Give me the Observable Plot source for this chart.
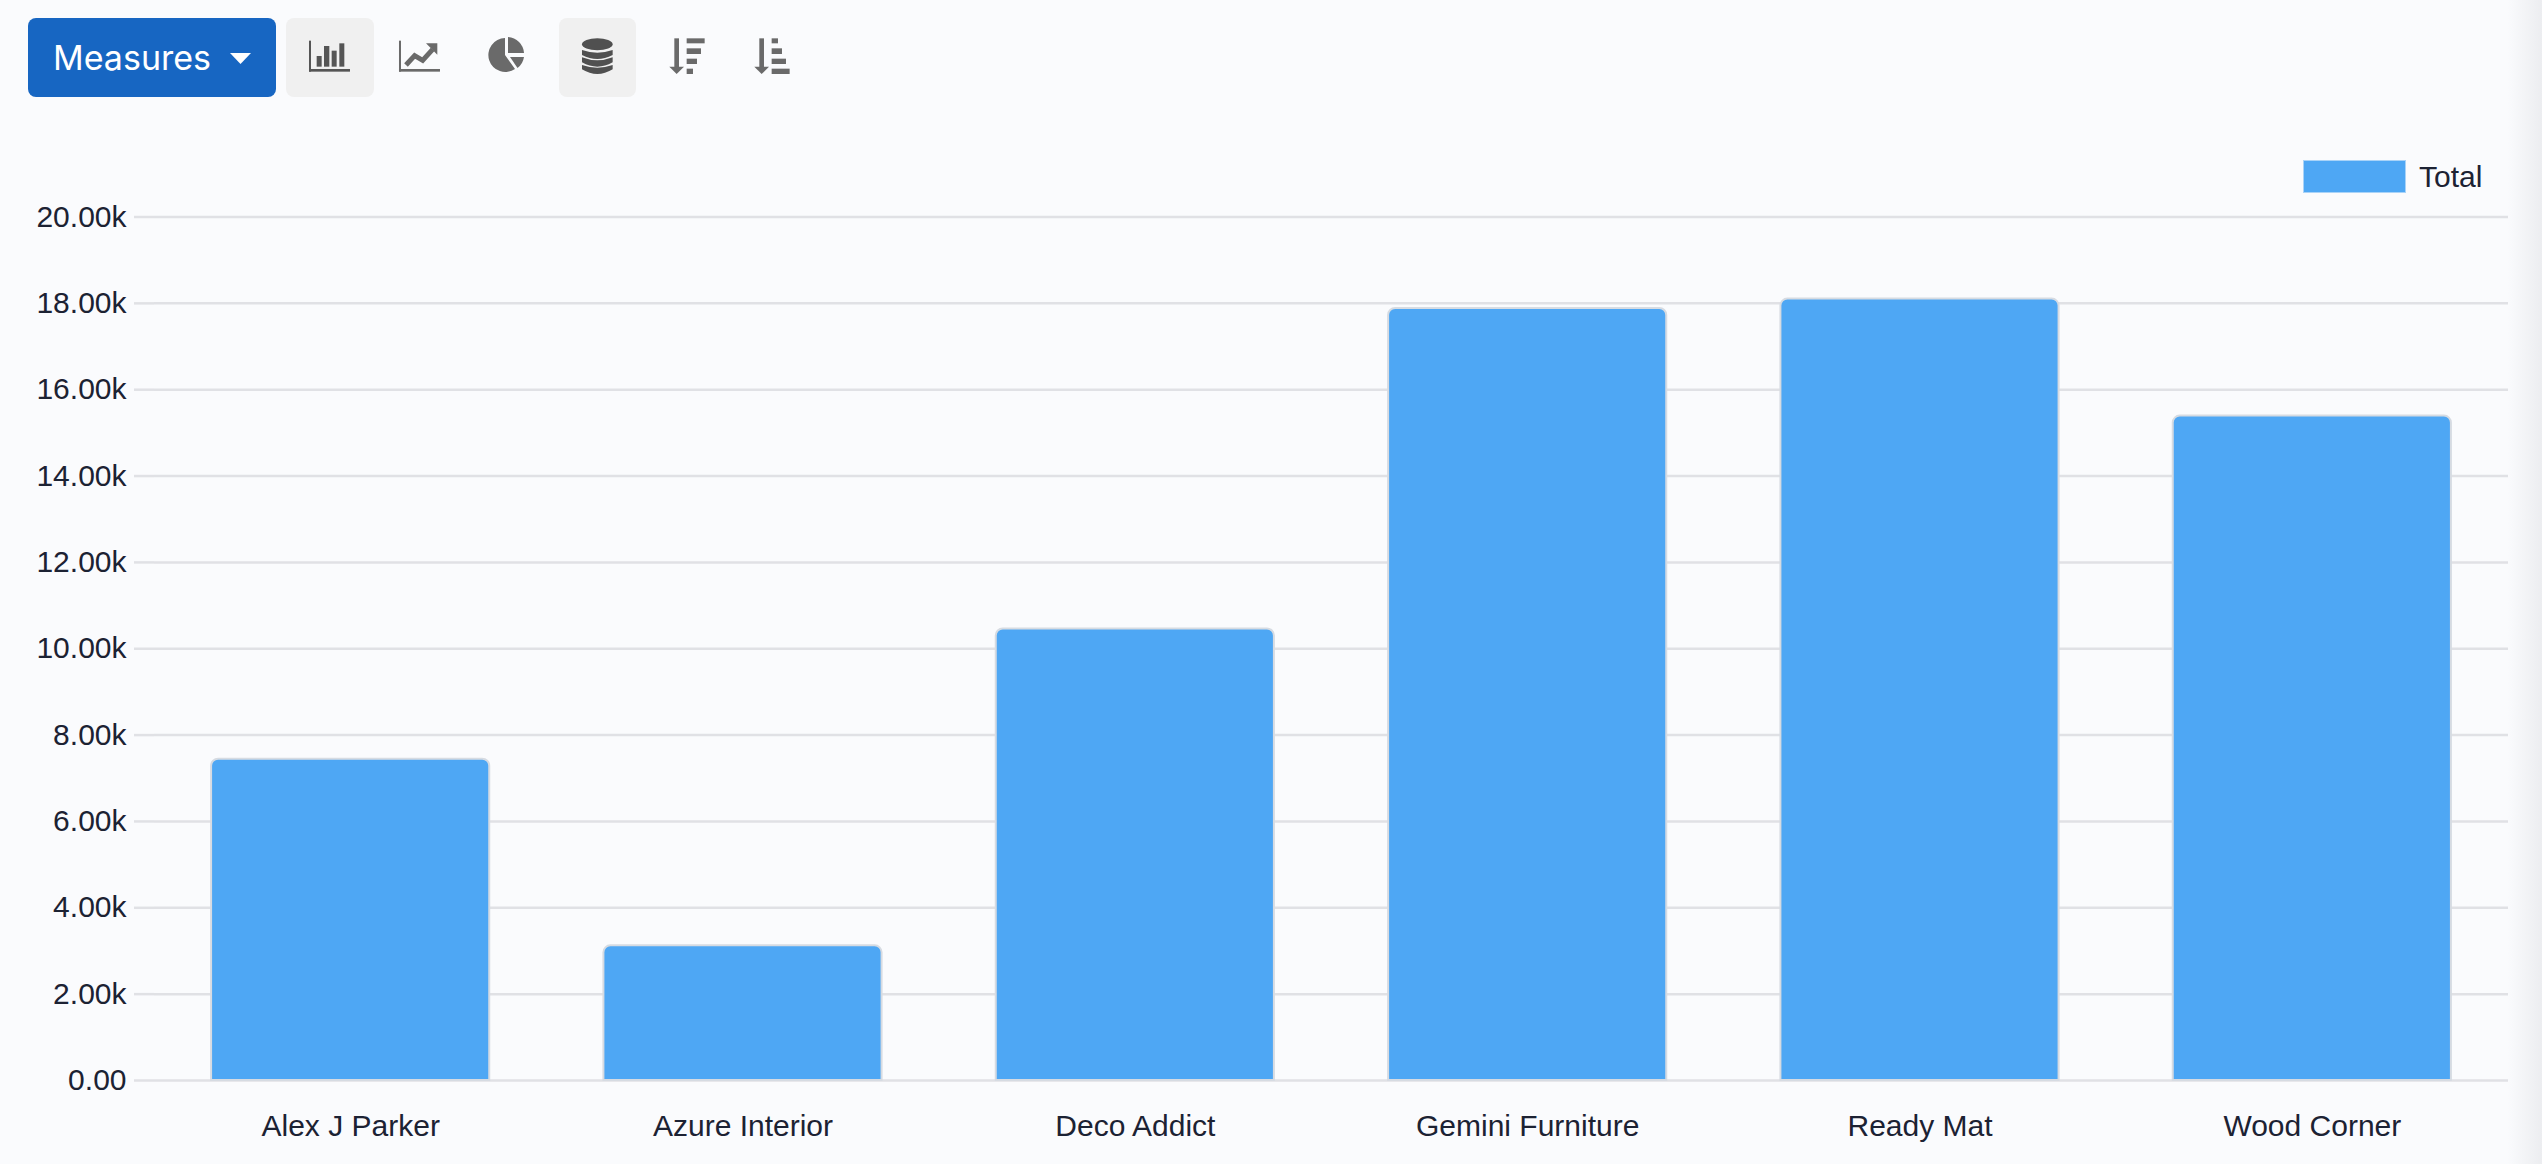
<!DOCTYPE html>
<html>
<head>
<meta charset="utf-8">
<script src="https://cdn.jsdelivr.net/npm/d3@7"></script>
<script src="https://cdn.jsdelivr.net/npm/@observablehq/plot@0.6"></script>
<style>
html,body{margin:0;padding:0;background:#fafbfd;width:2542px;height:1164px;overflow:hidden;position:relative;}
.abs{position:absolute;}
#btn{left:28px;top:18px;width:248px;height:79px;background:#1766c2;border-radius:8px;}
#btnText{left:53px;top:18px;height:79px;color:#fff;font:400 34px/79px Inter,sans-serif;}
.on{top:18px;height:79px;background:#f0f0f0;border-radius:8px;}
#legendSwatch{left:2303px;top:160px;width:103px;height:33px;background:#4ea7f4;box-sizing:border-box;border:1px solid #a9d3f8;}
#legendText{left:2419px;top:160px;color:#1c2233;font:30px/33px "Liberation Sans",sans-serif;}
#shade{left:2507px;top:0;width:35px;height:1164px;background:linear-gradient(to right,rgba(232,233,236,0),#ecedf0);}
#chart{left:0;top:0;}
#chart svg{display:block;background:transparent;}
</style>
</head>
<body>
<div id="chart" class="abs"></div>
<div id="btn" class="abs"></div>
<div id="btnText" class="abs">Measures</div>
<div class="abs on" style="left:286px;width:88px"></div>
<div class="abs on" style="left:559px;width:77px"></div>
<svg class="abs" style="left:0;top:0" width="800" height="110">
  <path d="M230,53H251L240.500,64Z" fill="#fff"/>
  <g transform="translate(280,10) scale(0.3333)">
    <g fill="#555">
      <rect x="87" y="92" width="6" height="93"/><rect x="87" y="177" width="123" height="8"/>
      <rect x="110" y="138" width="15" height="32"/><rect x="132" y="108" width="16" height="62"/>
      <rect x="155" y="122" width="15" height="48"/><rect x="178" y="100" width="15" height="70"/>
    </g>
    <g fill="#6a6a6a">
      <rect x="357" y="92" width="6" height="93"/><rect x="357" y="177" width="123" height="8"/>
      <path d="M378,165L404,137L428,151L458,118" fill="none" stroke="#6a6a6a" stroke-width="15"/>
      <path d="M438,100H472V134Z"/>
    </g>
  </g>
  <g fill="#6a6a6a">
    <path d="M505,38A17,17 0 1 0 515,69L505,55Z"/>
    <path d="M508,37A17,17 0 0 1 524,53H508Z"/>
    <path d="M524,57A17,17 0 0 1 517.500,68L510,57Z"/>
  </g>
  <g transform="translate(540,10) scale(0.3333)">
    <g fill="#505050">
      <ellipse cx="172" cy="103" rx="46" ry="18"/>
      <path d="M126,120Q172,136 218,120V135Q172,159 126,135Z"/>
      <path d="M126,142Q172,160 218,142V157Q172,183 126,157Z"/>
      <path d="M126,165Q172,181 218,165V178Q172,206 126,178Z"/>
    </g>
    <g fill="#6a6a6a">
      <rect x="403" y="85" width="14" height="87"/><path d="M388,170H432L410,192Z"/>
      <rect x="440" y="85" width="54" height="15"/><rect x="440" y="115" width="43" height="17"/>
      <rect x="440" y="146" width="31" height="16"/><rect x="440" y="176" width="19" height="16"/>
      <rect x="658" y="85" width="14" height="87"/><path d="M643,170H687L665,192Z"/>
      <rect x="695" y="85" width="19" height="15"/><rect x="695" y="115" width="31" height="17"/>
      <rect x="695" y="146" width="43" height="16"/><rect x="695" y="176" width="54" height="16"/>
    </g>
  </g>
</svg>
<div id="legendSwatch" class="abs"></div>
<div id="legendText" class="abs">Total</div>
<div id="shade" class="abs"></div>
<script>
const customers = ["Alex J Parker", "Azure Interior", "Deco Addict", "Gemini Furniture", "Ready Mat", "Wood Corner"];
const totals = [7440, 3120, 10460, 17880, 18100, 15390];
const yTicks = [0, 2000, 4000, 6000, 8000, 10000, 12000, 14000, 16000, 18000, 20000];
const rows = customers.map((name, i) => ({name, total: totals[i]}));
const fmt = d => d === 0 ? "0.00" : (d / 1000).toFixed(2) + "k";

const chart = Plot.plot({
  width: 2542,
  height: 1164,
  marginLeft: 154,
  marginRight: 34,
  marginTop: 216.5,
  marginBottom: 84,
  style: {background: "transparent", fontFamily: '"Liberation Sans", sans-serif', fontSize: "30px", color: "#1c2233", overflow: "visible"},
  x: {domain: customers, paddingInner: 0.291, paddingOuter: 0.1455, round: false, label: null},
  y: {domain: [0, 20000], label: null},
  marks: [
    Plot.gridY(yTicks, {stroke: "#e0e1e5", strokeOpacity: 1, strokeWidth: 2.5}),
    Plot.axisY(yTicks, {tickFormat: fmt, tickSize: 20, tickPadding: 8, stroke: "#e0e1e5", strokeWidth: 2.5, strokeOpacity: 1, label: null, fontSize: 30, fill: "#1c2233"}),
    Plot.barY(rows, {x: "name", y: "total", fill: "#4ea7f4", stroke: "#d6dbe2", strokeWidth: 2, rx1y1: 7, rx2y1: 7}),
    Plot.axisX({tickSize: 0, tickPadding: 34, label: null, fontSize: 30, fill: "#1c2233"})
  ]
});
document.getElementById("chart").appendChild(chart);
</script>
</body>
</html>
